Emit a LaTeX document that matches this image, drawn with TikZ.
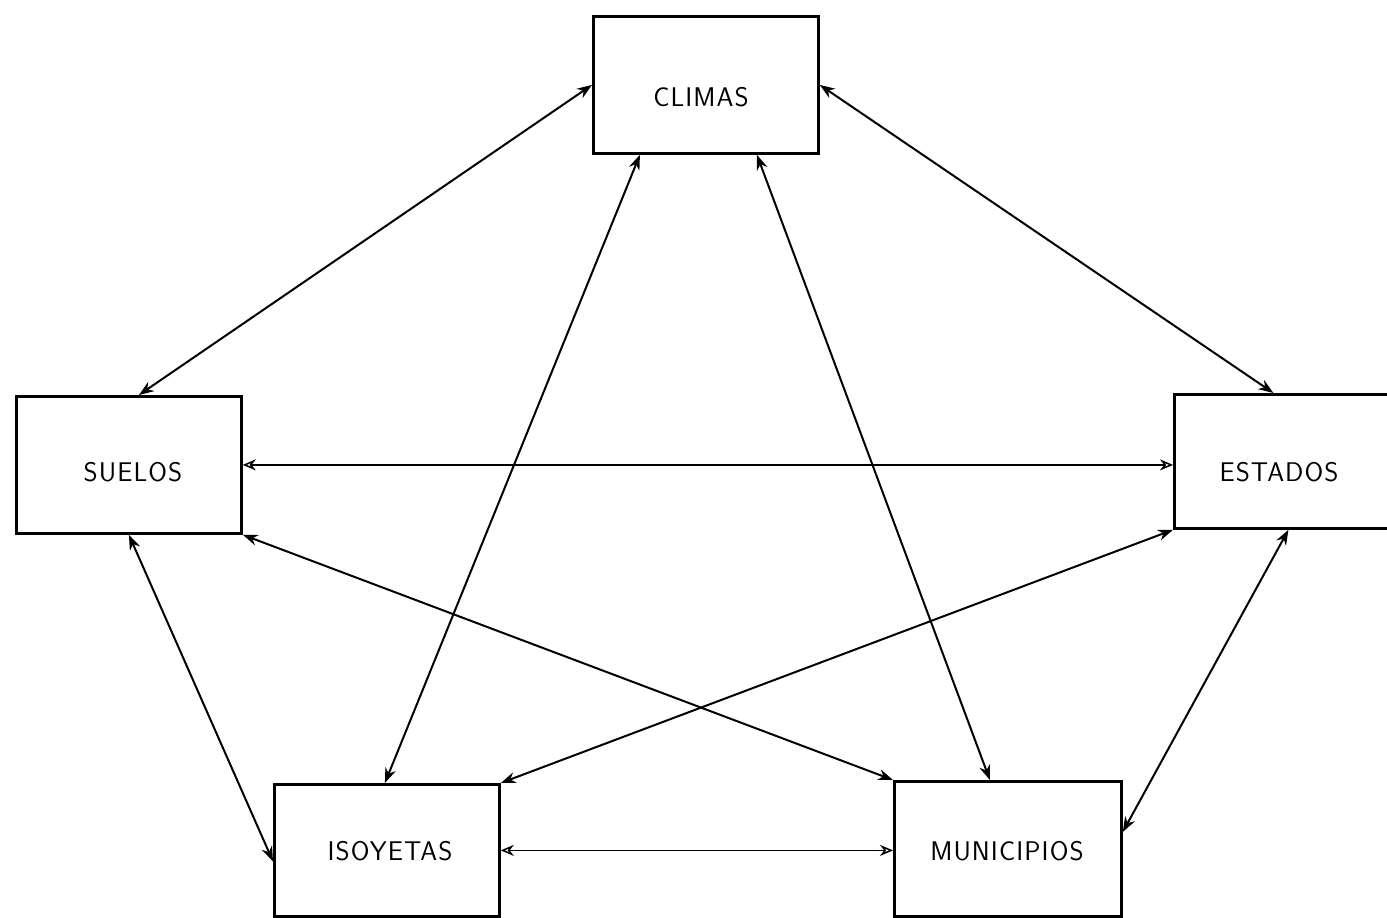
\documentclass[tikz,border=0pt]{standalone}
\usepackage{fontspec}
\newfontfamily\labfont{Latin Modern Sans}[LetterSpace=4]
\usetikzlibrary{arrows.meta,calc}
\begin{document}
\begin{tikzpicture}[x=1pt,y=-1pt,
  box/.style={draw,line width=2.8pt,inner sep=0pt,anchor=north west},
  lab/.style={font=\labfont\fontsize{27}{30}\selectfont,inner sep=0pt},
  conn/.style={line width=2pt,{Stealth[length=15pt,width=11pt]}-{Stealth[length=15pt,width=11pt]}},
  thin conn/.style={line width=1.5pt,{Stealth[length=13pt,width=11pt,open]}-{Stealth[length=13pt,width=11pt,open]}}]
\useasboundingbox (0,0) rectangle (1387,918);
\node[box,minimum width=225pt,minimum height=137pt] (cl) at (592,15) {};
\node[box,minimum width=225pt,minimum height=137pt] (su) at (15,395) {};
\node[box,minimum width=240pt,minimum height=134pt] (es) at (1173,393) {};
\node[box,minimum width=225pt,minimum height=132pt] (iso) at (273,783) {};
\node[box,minimum width=227pt,minimum height=135pt] (mu) at (893,780) {};
\node[lab] (clt) at (701,97) {CLIMAS};
\node[lab] (sut) at (133,472) {SUELOS};
\node[lab] (est) at (1279,472) {ESTADOS};
\node[lab] (isot) at (390,851) {ISOYETAS};
\node[lab] (mut) at (1007,851) {MUNICIPIOS};
% connectors
\draw[conn] (cl.west) -- ([xshift=10pt]su.north);
\draw[conn] ([xshift=-66pt]cl.south) -- ([xshift=-2pt]iso.north);
\draw[conn] ([xshift=51pt]cl.south) -- ([xshift=-18pt]mu.north);
\draw[conn] (cl.east) -- ([xshift=-21pt]es.north);
\draw[thin conn] (su.east) -- (es.west |- su.east);
\draw[conn] (su.south east) -- (mu.north west);
\draw[conn] (su.south) -- ([yshift=-11pt]iso.west);
\draw[conn] (es.south west) -- (iso.north east);
\draw[conn] ([xshift=-6pt]es.south) -- ([yshift=17pt]mu.east);
\draw[thin conn] (iso.east) -- (mu.west |- iso.east);
\end{tikzpicture}
\end{document}
